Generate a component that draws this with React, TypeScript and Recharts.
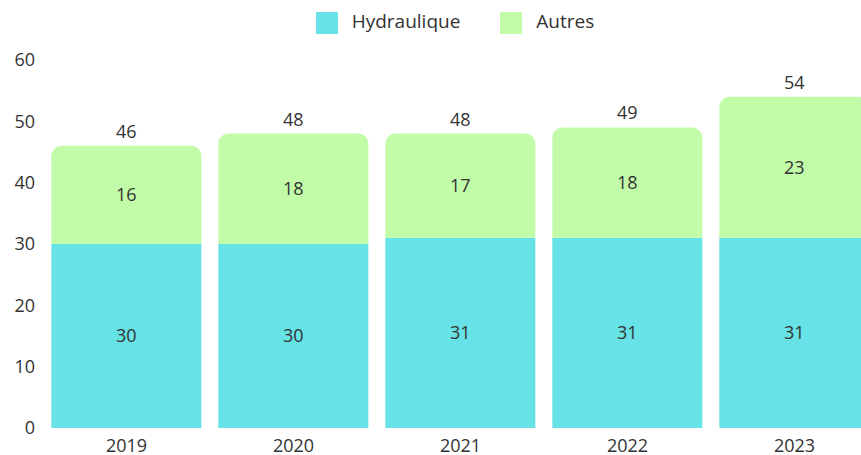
import { Bar, BarChart, LabelList, Legend, XAxis, YAxis } from "recharts";

const years = ["2019", "2020", "2021", "2022", "2023"];
const hydraulique = [30, 30, 31, 31, 31];
const autres = [16, 18, 17, 18, 23];
const totals = [46, 48, 48, 49, 54];
const yTicks = [0, 10, 20, 30, 40, 50, 60];
const seriesOrder = ["hydraulique", "autres"];

const data = years.map((year, i) => ({
  year,
  hydraulique: hydraulique[i],
  autres: autres[i],
  total: totals[i],
}));

const font = "'Open Sans', sans-serif";
const textColor = "#333333";

export default function App() {
  return (
    <div style={{ position: "absolute", left: 0, top: 0, fontFamily: font }}>
      <BarChart
        width={880}
        height={458}
        data={data}
        margin={{ top: 34, right: 2, bottom: 0, left: 0 }}
        barCategoryGap="5%"
      >
        <XAxis
          dataKey="year"
          axisLine={false}
          tickLine={false}
          tickMargin={5}
          tick={{ fill: textColor, fontSize: 18, fontFamily: font }}
        />
        <YAxis
          width={43}
          domain={[0, 60]}
          ticks={yTicks}
          axisLine={false}
          tickLine={false}
          tick={{ fill: textColor, fontSize: 18, fontFamily: font }}
        />
        <Legend
          verticalAlign="top"
          iconType="square"
          iconSize={22}
          itemSorter={(item: any) => seriesOrder.indexOf(item.dataKey)}
          wrapperStyle={{ fontFamily: font, fontSize: 19, top: 8, left: 21 }}
          formatter={(value: string, entry: any) => (
            <span
              style={{
                color: textColor,
                marginLeft: 10,
                paddingRight: entry.dataKey === "hydraulique" ? 30 : 0,
              }}
            >
              {value}
            </span>
          )}
        />
        <Bar
          dataKey="hydraulique"
          name="Hydraulique"
          stackId="a"
          fill="#67e2e6"
          isAnimationActive={false}
        >
          <LabelList
            dataKey="hydraulique"
            position="center"
            fill={textColor}
            fontSize={18}
            fontFamily={font}
          />
        </Bar>
        <Bar
          dataKey="autres"
          name="Autres"
          stackId="a"
          fill="#c2fca9"
          radius={[10, 10, 0, 0]}
          isAnimationActive={false}
        >
          <LabelList
            dataKey="autres"
            position="center"
            fill={textColor}
            fontSize={18}
            fontFamily={font}
          />
          <LabelList
            dataKey="total"
            position="top"
            offset={8}
            fill={textColor}
            fontSize={18}
            fontFamily={font}
          />
        </Bar>
      </BarChart>
    </div>
  );
}
